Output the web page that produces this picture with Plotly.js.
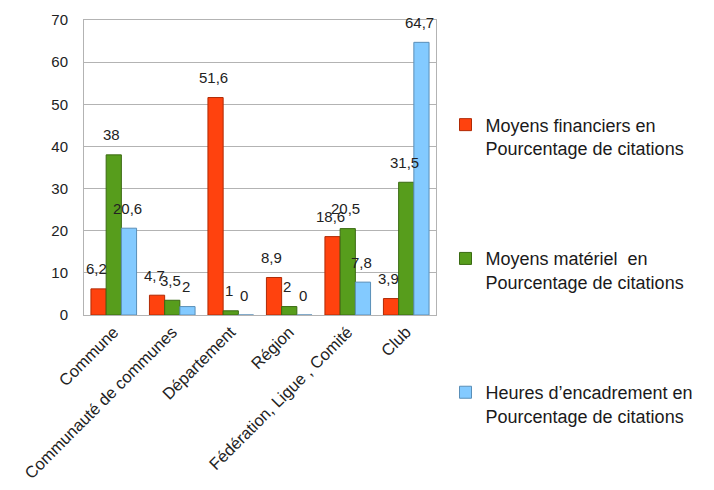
<!DOCTYPE html>
<html>
<head>
<meta charset="utf-8">
<script src="https://cdn.plot.ly/plotly-3.0.1.min.js"></script>
<style>html,body{margin:0;padding:0;background:#fff;}#chart{width:714px;height:490px;}</style>
</head>
<body>
<div id="chart"></div>
<script>
const categories = ["Commune", "Communauté de communes", "Département", "Région", "Fédération, Ligue , Comité", "Club"];
const financiers = [6.2, 4.7, 51.6, 8.9, 18.6, 3.9];
const materiel = [38, 3.5, 1, 2, 20.5, 31.5];
const encadrement = [20.6, 2, 0, 0, 7.8, 64.7];
const seriesNames = [
  "Moyens financiers en<br>Pourcentage de citations",
  "Moyens matériel\u00a0 en<br>Pourcentage de citations",
  "Heures d\u2019encadrement en<br>Pourcentage de citations"
];
const yTicks = [0, 10, 20, 30, 40, 50, 60, 70];

const colors = ["#ff420e", "#579d1c", "#83caff"];
const lineColors = ["#b02a05", "#3a6a12", "#5a8fb8"];
const seriesVals = [financiers, materiel, encadrement];

const fmt = v => String(v).replace(".", ",");

const traces = seriesVals.map((vals, i) => ({
  type: "bar",
  x: categories,
  y: vals,
  name: seriesNames[i],
  legendgroup: "g" + i,
  marker: {color: colors[i], line: {color: lineColors[i], width: 1}},
  hoverinfo: "skip"
}));

const marginL = 84, marginR = 278, W = 714;
const plotW = W - marginL - marginR;
const bargap = 0.22;
const slot = plotW / categories.length;
const barW = slot * (1 - bargap) / 3;

const annotations = [];
seriesVals.forEach((vals, i) => {
  vals.forEach((v, j) => {
    annotations.push({
      x: categories[j], y: v, xref: "x", yref: "y",
      text: fmt(v), showarrow: false,
      xshift: (i - 1) * barW - 2, yshift: 20,
      font: {family: "Liberation Sans, Arial, sans-serif", size: 15, color: "#222"}
    });
  });
});

const layout = {
  width: 714, height: 490,
  margin: {l: marginL, r: marginR, t: 20, b: 175},
  paper_bgcolor: "#fff", plot_bgcolor: "#fff",
  barmode: "group", bargap: bargap, bargroupgap: 0,
  font: {family: "Liberation Sans, Arial, sans-serif", size: 15, color: "#222"},
  showlegend: true,
  legend: {
    x: 1.027, xanchor: "left", y: 0.707, yanchor: "top",
    tracegroupgap: 84, traceorder: "grouped", valign: "top",
    font: {size: 18, color: "#1a1a1a"},
    itemwidth: 30, maxheight: 470,
    itemclick: false
  },
  xaxis: {
    type: "category", tickangle: -45, showgrid: false,
    showline: true, linecolor: "#b3b3b3", mirror: true, ticks: "",
    tickfont: {size: 16.5, color: "#222"}, fixedrange: true
  },
  yaxis: {
    range: [0, 70], tickvals: yTicks, ticktext: yTicks.map(String),
    showgrid: true, gridcolor: "#b3b3b3", gridwidth: 1,
    showline: true, linecolor: "#b3b3b3", mirror: true,
    zeroline: false, ticks: "", ticklabelstandoff: 12,
    tickfont: {size: 15, color: "#222"}, fixedrange: true
  },
  annotations: annotations
};

Plotly.newPlot("chart", traces, layout, {displayModeBar: false, staticPlot: true});
</script>
</body>
</html>
